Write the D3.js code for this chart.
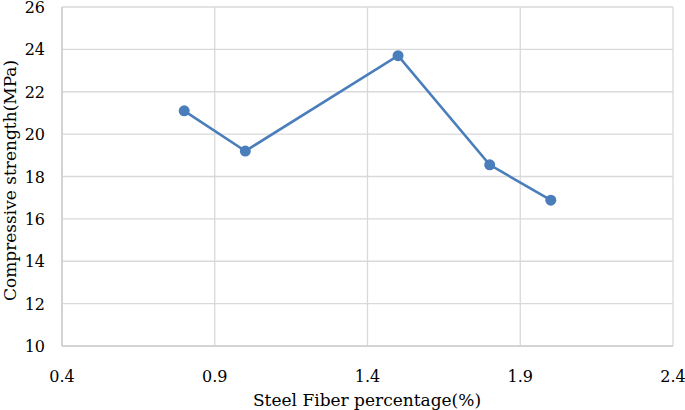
<!DOCTYPE html>
<html>
<head>
<meta charset="utf-8">
<script src="https://cdn.jsdelivr.net/npm/d3@7"></script>
<style>
  body { margin: 0; background: #fff; }
  text { font-family: "DejaVu Serif", "Liberation Serif", serif; fill: #000; }
</style>
</head>
<body>
<div id="chart"></div>
<script>
// Steel fiber percentage vs compressive strength
const fiberPct = [0.8, 1.0, 1.5, 1.8, 2.0];
const strength = [21.1, 19.2, 23.7, 18.55, 16.88];
const xTicks = [0.4, 0.9, 1.4, 1.9, 2.4];
const yTicks = [10, 12, 14, 16, 18, 20, 22, 24, 26];

const width = 685, height = 410;
const margin = { top: 7, right: 12, bottom: 64, left: 62 };

const svg = d3.select('#chart').append('svg')
    .attr('width', width)
    .attr('height', height);

const x = d3.scaleLinear().domain([0.4, 2.4]).range([margin.left, width - margin.right]);
const y = d3.scaleLinear().domain([10, 26]).range([height - margin.bottom, margin.top]);

// Gridlines
svg.append('g')
    .selectAll('line')
    .data(yTicks)
    .enter()
    .append('line')
    .attr('x1', x(0.4)).attr('x2', x(2.4))
    .attr('y1', d => y(d)).attr('y2', d => y(d))
    .attr('stroke', '#d9d9d9')
    .attr('stroke-width', 1.3);

svg.append('g')
    .selectAll('line')
    .data(xTicks)
    .enter()
    .append('line')
    .attr('x1', d => x(d)).attr('x2', d => x(d))
    .attr('y1', y(10)).attr('y2', y(26))
    .attr('stroke', '#d9d9d9')
    .attr('stroke-width', 1.3);

// Axis lines
svg.append('line')
    .attr('x1', x(0.4)).attr('x2', x(0.4))
    .attr('y1', y(10)).attr('y2', y(26))
    .attr('stroke', '#cfcfcf').attr('stroke-width', 1.6);
svg.append('line')
    .attr('x1', x(0.4)).attr('x2', x(2.4))
    .attr('y1', y(10)).attr('y2', y(10))
    .attr('stroke', '#cfcfcf').attr('stroke-width', 1.6);

// Tick labels
svg.append('g')
    .selectAll('text')
    .data(yTicks)
    .enter()
    .append('text')
    .attr('x', 45)
    .attr('y', d => y(d))
    .attr('dy', '0.38em')
    .attr('text-anchor', 'end')
    .attr('font-size', 16)
    .text(d => d);

svg.append('g')
    .selectAll('text')
    .data(xTicks)
    .enter()
    .append('text')
    .attr('x', d => x(d))
    .attr('y', 382)
    .attr('text-anchor', 'middle')
    .attr('font-size', 16)
    .text(d => d.toFixed(1));

// Axis titles
svg.append('text')
    .attr('x', 367)
    .attr('y', 406)
    .attr('text-anchor', 'middle')
    .attr('font-size', 17)
    .text('Steel Fiber percentage(%)');

svg.append('text')
    .attr('transform', `translate(16,${(y(10) + y(26)) / 2 + 4}) rotate(-90)`)
    .attr('text-anchor', 'middle')
    .attr('font-size', 17)
    .text('Compressive strength(MPa)');

// Series line
const pts = fiberPct.map((d, i) => ({ x: d, y: strength[i] }));
const line = d3.line().x(d => x(d.x)).y(d => y(d.y));

svg.append('path')
    .datum(pts)
    .attr('d', line)
    .attr('fill', 'none')
    .attr('stroke', '#4a7ebb')
    .attr('stroke-width', 2.6);

svg.append('g')
    .selectAll('circle')
    .data(pts)
    .enter()
    .append('circle')
    .attr('cx', d => x(d.x))
    .attr('cy', d => y(d.y))
    .attr('r', 5.5)
    .attr('fill', '#4a7ebb');
</script>
</body>
</html>
